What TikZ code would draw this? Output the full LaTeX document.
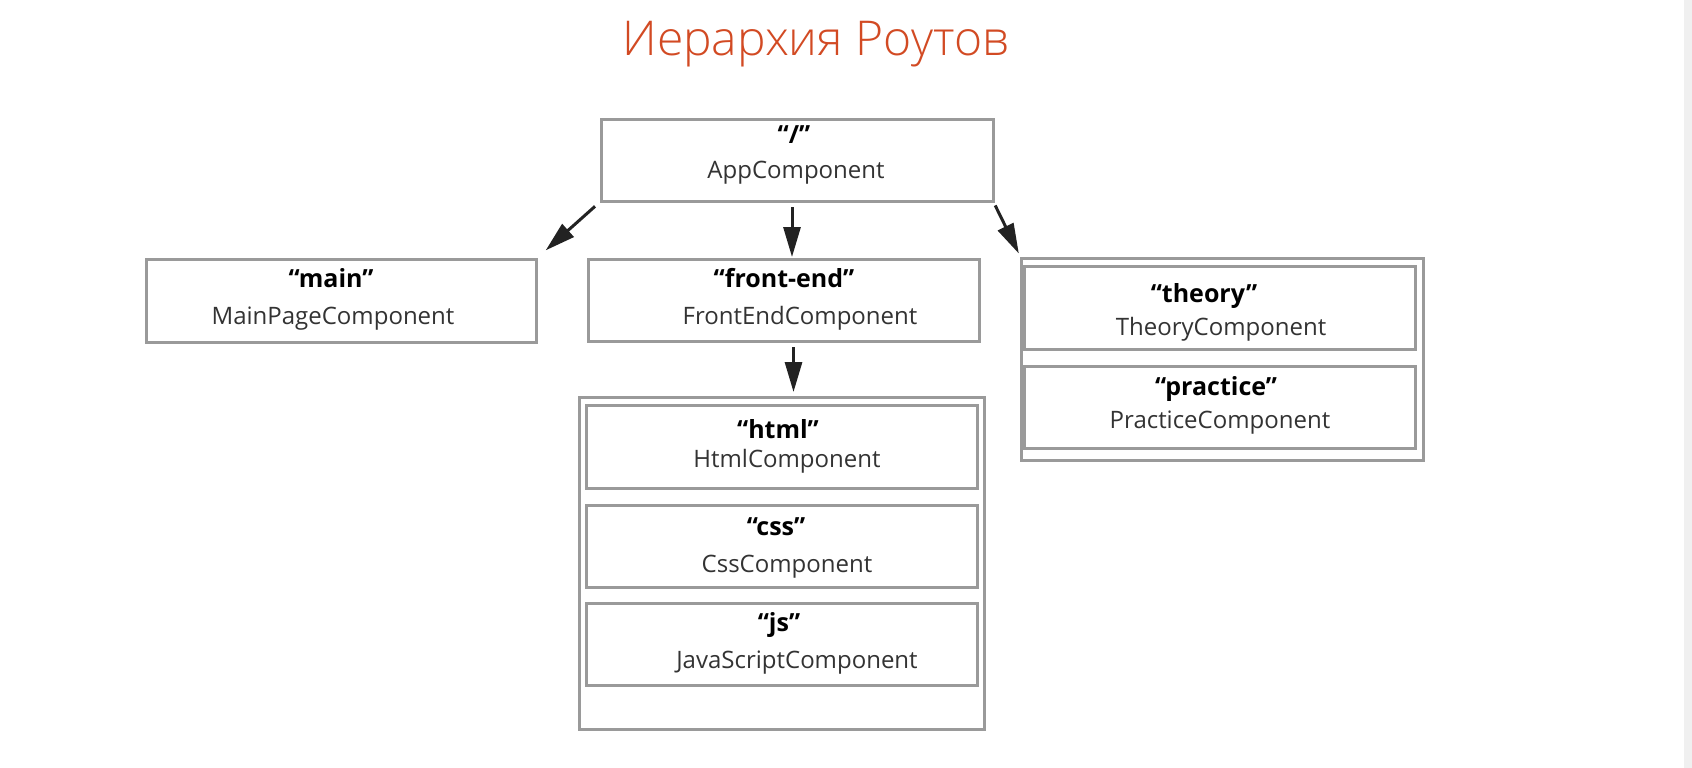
\documentclass[tikz,border=0pt]{standalone}
\usepackage{fontspec}
\setmainfont{Open Sans}
\IfFontExistsTF{Open Sans Light}{\newfontfamily\titlefont{Open Sans Light}}{\newfontfamily\titlefont{Open Sans}}
\usetikzlibrary{arrows.meta}
\definecolor{boxgray}{HTML}{9A9A9A}
\definecolor{titleorange}{HTML}{D24A23}
\definecolor{namegray}{HTML}{333333}
\definecolor{arrowdark}{HTML}{222222}
\definecolor{stripgray}{HTML}{F0F0F0}
\begin{document}
\begin{tikzpicture}[x=1pt,y=-1pt,
  box/.style={draw=boxgray, line width=3pt, rectangle, inner sep=0pt, outer sep=0pt},
  lbl/.style={anchor=base, font=\fontsize{25}{29}\selectfont\bfseries, text=black, inner sep=0pt},
  nm/.style={anchor=base, font=\fontsize{24}{28}\selectfont, text=namegray, inner sep=0pt},
  arr/.style={draw=arrowdark, line width=3pt, -{Triangle[length=30pt,width=17pt]}}]
\useasboundingbox (0,0) rectangle (1692,768);
\fill[white] (0,0) rectangle (1692,768);
\fill[stripgray] (1684,0) rectangle (1692,768);

\node[anchor=base, font=\titlefont\fontsize{48}{52}\selectfont, text=titleorange, inner sep=0pt] (title) at (816,56) {Иерархия Роутов};

% boxes
\node[box, minimum width=392pt, minimum height=82pt] (app) at (797,160) {};
\node[box, minimum width=390pt, minimum height=83pt] (main) at (341,300.5) {};
\node[box, minimum width=391pt, minimum height=82pt] (fe) at (783.5,300) {};
\node[box, minimum width=402pt, minimum height=202.5pt] (thcont) at (1222,359.25) {};
\node[box, minimum width=391pt, minimum height=83pt] (th) at (1220,308) {};
\node[box, minimum width=391pt, minimum height=82pt] (pr) at (1220,407) {};
\node[box, minimum width=405pt, minimum height=332.5pt] (fecont) at (782,563.25) {};
\node[box, minimum width=391pt, minimum height=83pt] (html) at (781.5,446.5) {};
\node[box, minimum width=391pt, minimum height=82pt] (css) at (781.5,546) {};
\node[box, minimum width=391pt, minimum height=82pt] (js) at (781.5,644) {};

% texts
\node[lbl] (appL) at (794,143) {“/”};
\node[nm] (appN) at (796,178) {AppComponent};
\node[lbl] (mainL) at (331,287) {“main”};
\node[nm] (mainN) at (333,324) {MainPageComponent};
\node[lbl] (feL) at (784,287) {“front-end”};
\node[nm] (feN) at (800,324) {FrontEndComponent};
\node[lbl] (thL) at (1204,302) {“theory”};
\node[nm] (thN) at (1221,335) {TheoryComponent};
\node[lbl] (prL) at (1216,395) {“practice”};
\node[nm] (prN) at (1220,428) {PracticeComponent};
\node[lbl] (htmlL) at (778,438) {“html”};
\node[nm] (htmlN) at (787,467) {HtmlComponent};
\node[lbl] (cssL) at (776,535) {“css”};
\node[nm] (cssN) at (787,572) {CssComponent};
\node[lbl] (jsL) at (779,631) {“js”};
\node[nm] (jsN) at (797,668) {JavaScriptComponent};

% arrows
\draw[arr, shorten <=8pt, shorten >=13pt] (app.south west) -- (main.north east);
\draw[arr, shorten <=6pt, shorten >=2pt] ([xshift=-5pt]app.south) -- ([xshift=-5pt]app.south |- fe.north);
\draw[arr, shorten <=5pt, shorten >=5pt] (app.south east) -- (thcont.north west);
\draw[arr, shorten <=6pt, shorten >=5pt] ([xshift=10pt]fe.south) -- ([xshift=10pt]fe.south |- fecont.north);
\end{tikzpicture}
\end{document}
